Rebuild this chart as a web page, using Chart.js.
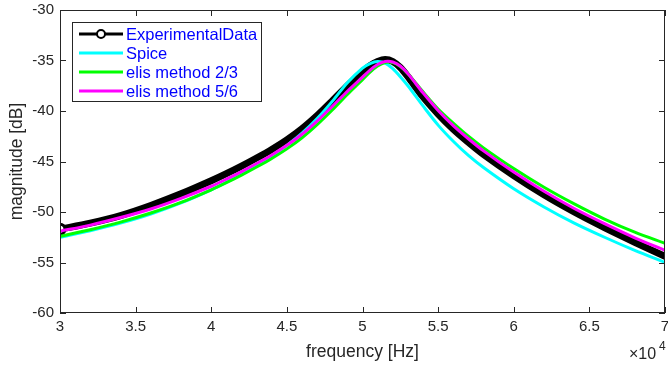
<!DOCTYPE html>
<html><head><meta charset="utf-8">
<script src="https://cdn.jsdelivr.net/npm/chart.js@4/dist/chart.umd.min.js"></script>
<style>html,body{margin:0;padding:0;background:#fff}#wrap{width:668px;height:366px}</style>
</head><body><div id="wrap"><canvas id="c" width="668" height="366"></canvas></div>
<script>
const freqKHz = [30,32,34,36,38,40,41,42,43,44,45,46,47,48,49,50,50.5,51,51.5,52,52.5,53,54,55,56,57,58,60,62,64,66,68,70];
const experimental = [-51.7,-51.1,-50.35,-49.35,-48.2,-46.9,-46.2,-45.45,-44.65,-43.8,-42.85,-41.75,-40.45,-39.0,-37.5,-36.1,-35.5,-35.1,-34.9,-35.1,-35.7,-36.6,-38.6,-40.3,-41.8,-43.1,-44.3,-46.4,-48.3,-50.0,-51.55,-53.0,-54.4];
const spice = [-52.5,-51.85,-51.1,-50.2,-49.1,-47.8,-47.05,-46.25,-45.4,-44.45,-43.4,-42.2,-40.75,-39.05,-37.2,-35.75,-35.3,-35.1,-35.25,-35.8,-36.6,-37.5,-39.5,-41.4,-43.0,-44.4,-45.6,-47.7,-49.5,-51.1,-52.5,-53.8,-55.0];
const elis23 = [-52.4,-51.75,-51.0,-50.1,-49.05,-47.8,-47.1,-46.35,-45.55,-44.7,-43.75,-42.65,-41.35,-39.9,-38.35,-36.9,-36.15,-35.55,-35.2,-35.2,-35.6,-36.3,-38.1,-39.8,-41.2,-42.5,-43.65,-45.7,-47.55,-49.2,-50.7,-52.0,-53.1];
const elis56 = [-51.9,-51.3,-50.55,-49.7,-48.65,-47.45,-46.75,-46.0,-45.2,-44.35,-43.4,-42.3,-41.0,-39.55,-38.05,-36.65,-35.95,-35.4,-35.1,-35.15,-35.55,-36.3,-38.2,-39.95,-41.45,-42.75,-43.95,-46.05,-47.95,-49.65,-51.15,-52.55,-53.8];
const seriesNames = ['ExperimentalData','Spice','elis method 2/3','elis method 5/6'];
const xTicks = [30000,35000,40000,45000,50000,55000,60000,65000,70000];
const yTicks = [-60,-55,-50,-45,-40,-35,-30];
const xTitle = 'frequency [Hz]';
const yTitle = 'magnitude [dB]';

const FONT = '"Liberation Sans", Arial, Helvetica, sans-serif';
const toXY = arr => arr.map((v,i)=>({x:freqKHz[i]*1000,y:v}));

const matlabDeco = {
  id:'matlabDeco',
  afterDraw(chart){
    const ctx = chart.ctx, a = chart.chartArea;
    const xs = chart.scales.x, ys = chart.scales.y;
    ctx.save();
    ctx.strokeStyle = '#262626'; ctx.lineWidth = 1;
    ctx.strokeRect(Math.round(a.left)+0.5, Math.round(a.top)+0.5, Math.round(a.right-a.left)-1, Math.round(a.bottom-a.top)-1);
    ctx.beginPath();
    const tl = 6;
    xTicks.forEach(v=>{ const p = Math.round(xs.getPixelForValue(v))+0.5;
      ctx.moveTo(p,a.bottom); ctx.lineTo(p,a.bottom-tl); ctx.moveTo(p,a.top); ctx.lineTo(p,a.top+tl); });
    yTicks.forEach(v=>{ const p = Math.round(ys.getPixelForValue(v))+0.5;
      ctx.moveTo(a.left,p); ctx.lineTo(a.left+tl,p); ctx.moveTo(a.right,p); ctx.lineTo(a.right-tl,p); });
    ctx.stroke();
    // axis titles
    ctx.fillStyle = '#262626';
    ctx.font = '17.5px ' + FONT;
    ctx.textAlign = 'center'; ctx.textBaseline = 'middle';
    ctx.fillText(xTitle, (a.left+a.right)/2, a.bottom+39);
    ctx.save(); ctx.translate(17,(a.top+a.bottom)/2); ctx.rotate(-Math.PI/2); ctx.fillText(yTitle,0,0); ctx.restore();
    // exponent
    ctx.textAlign = 'left'; ctx.textBaseline = 'alphabetic';
    ctx.font = '16px ' + FONT;
    ctx.fillText('\u00d710', a.right-36, a.bottom+46);
    ctx.font = '12px ' + FONT;
    ctx.fillText('4', a.right-6, a.bottom+37);
    // legend
    const lx = a.left+12, ly = a.top+12, lw = 189, lh = 79;
    ctx.fillStyle = '#fff'; ctx.fillRect(lx,ly,lw,lh);
    ctx.strokeStyle = '#262626'; ctx.lineWidth = 1; ctx.strokeRect(lx+0.5,ly+0.5,lw,lh);
    ctx.font = '16.5px ' + FONT; ctx.textBaseline='middle';
    chart.data.datasets.forEach((ds,i)=>{
      const yy = ly + 12 + i*19;
      ctx.strokeStyle = ds.borderColor; ctx.lineWidth = 3;
      ctx.beginPath(); ctx.moveTo(lx+7,yy); ctx.lineTo(lx+51,yy); ctx.stroke();
      if(i===0){ ctx.beginPath(); ctx.arc(lx+29,yy,4,0,Math.PI*2); ctx.fillStyle='#fff'; ctx.fill(); ctx.lineWidth=2; ctx.stroke(); }
      ctx.fillStyle = '#0000ff'; ctx.textAlign='left';
      ctx.fillText(ds.label, lx+54, yy+1);
    });
    ctx.restore();
  }
};

new Chart(document.getElementById('c'), {
  type:'line',
  data:{ datasets:[
    {label:seriesNames[0], data:toXY(experimental), borderColor:'#000000', backgroundColor:'#ffffff', borderWidth:7, order:4,
      pointRadius:ctx=>ctx.dataIndex===0?5:0, pointBorderWidth:3, pointBorderColor:'#000', pointBackgroundColor:'#fff'},
    {label:seriesNames[1], data:toXY(spice), borderColor:'#00ffff', borderWidth:3, pointRadius:0, order:3},
    {label:seriesNames[2], data:toXY(elis23), borderColor:'#00ff00', borderWidth:3, pointRadius:0, order:2},
    {label:seriesNames[3], data:toXY(elis56), borderColor:'#ff00ff', borderWidth:3, pointRadius:0, order:1}
  ]},
  options:{
    responsive:false, animation:false, devicePixelRatio:1,
    layout:{autoPadding:false, padding:{top:10,right:3,left:0,bottom:0}},
    elements:{line:{tension:0.3, borderJoinStyle:'round', borderCapStyle:'round'}},
    plugins:{legend:{display:false}, tooltip:{enabled:false}},
    scales:{
      x:{type:'linear', min:30000, max:70000,
        afterBuildTicks:s=>{s.ticks = xTicks.map(v=>({value:v}));},
        afterFit:s=>{s.height=53; s.paddingLeft=0; s.paddingRight=0;},
        grid:{display:false, drawTicks:false}, border:{display:false},
        ticks:{padding:5, color:'#262626', font:{family:FONT,size:15}, maxRotation:0, callback:v=>String(v/10000)}},
      y:{type:'linear', min:-60, max:-30,
        afterBuildTicks:s=>{s.ticks = yTicks.map(v=>({value:v}));},
        afterFit:s=>{s.width=60; s.paddingTop=0; s.paddingBottom=0;},
        grid:{display:false, drawTicks:false}, border:{display:false},
        ticks:{padding:6, color:'#262626', font:{family:FONT,size:15}, callback:v=>String(v)}}
    }
  },
  plugins:[matlabDeco]
});
</script></body></html>
